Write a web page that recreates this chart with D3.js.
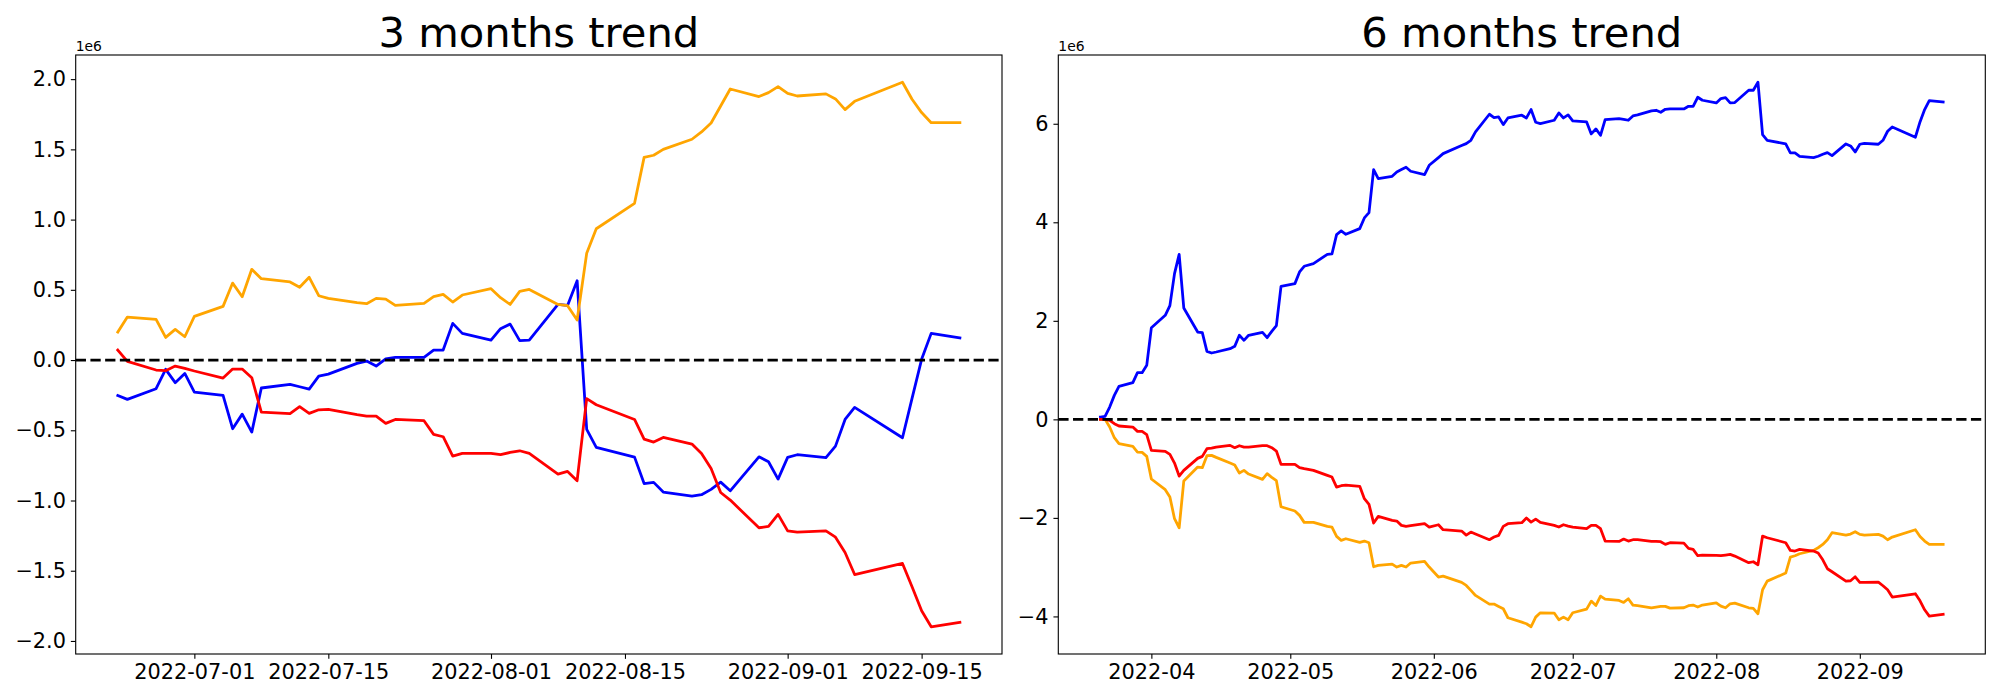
<!DOCTYPE html>
<html><head><meta charset="utf-8">
<script src="https://cdn.jsdelivr.net/npm/d3@7"></script>
<style>
body{margin:0;background:#fff}
svg{display:block}
text{font-family:"DejaVu Sans",sans-serif;fill:#000}
</style>
</head><body>
<svg id="chart" width="2000" height="700"></svg>
<script>
// ---------- 3 months panel (values in units of 1e6) ----------
const dates3m = [
"2022-06-23","2022-06-24","2022-06-27","2022-06-28","2022-06-29","2022-06-30",
"2022-07-01","2022-07-04","2022-07-05","2022-07-06","2022-07-07","2022-07-08",
"2022-07-11","2022-07-12","2022-07-13","2022-07-14","2022-07-15",
"2022-07-18","2022-07-19","2022-07-20","2022-07-21","2022-07-22",
"2022-07-25","2022-07-26","2022-07-27","2022-07-28","2022-07-29",
"2022-08-01","2022-08-02","2022-08-03","2022-08-04","2022-08-05",
"2022-08-08","2022-08-09","2022-08-10","2022-08-11","2022-08-12",
"2022-08-16","2022-08-17","2022-08-18","2022-08-19",
"2022-08-22","2022-08-23","2022-08-24","2022-08-25","2022-08-26",
"2022-08-29","2022-08-30","2022-08-31","2022-09-01","2022-09-02",
"2022-09-05","2022-09-06","2022-09-07","2022-09-08",
"2022-09-13","2022-09-14","2022-09-15","2022-09-16","2022-09-19"];

const blue3m = [
-0.252,-0.280,-0.204,-0.066,-0.161,-0.095,
-0.228,-0.252,-0.489,-0.385,-0.513,-0.199,
-0.173,-0.190,-0.207,-0.114,-0.100,
-0.024,-0.007,-0.043,0.009,0.019,
0.019,0.071,0.071,0.261,0.190,
0.142,0.223,0.256,0.138,0.142,
0.396,0.389,0.565,-0.494,-0.622,
-0.691,-0.879,-0.871,-0.940,
-0.969,-0.959,-0.921,-0.869,-0.931,
-0.689,-0.724,-0.848,-0.693,-0.674,
-0.695,-0.613,-0.423,-0.337,
-0.553,-0.273,0.005,0.190,0.157];

const red3m = [
0.071,-0.009,-0.071,-0.076,-0.043,-0.059,
-0.078,-0.128,-0.064,-0.064,-0.126,-0.370,
-0.382,-0.332,-0.380,-0.354,-0.351,
-0.389,-0.399,-0.399,-0.451,-0.423,
-0.432,-0.529,-0.546,-0.684,-0.665,
-0.665,-0.674,-0.658,-0.646,-0.665,
-0.812,-0.793,-0.859,-0.275,-0.318,
-0.423,-0.563,-0.584,-0.551,
-0.598,-0.665,-0.772,-0.943,-0.997,
-1.194,-1.185,-1.099,-1.216,-1.225,
-1.216,-1.261,-1.370,-1.527,
-1.448,-1.614,-1.785,-1.899,-1.868];

const orange3m = [
0.199,0.306,0.290,0.161,0.218,0.166,
0.311,0.382,0.548,0.451,0.646,0.579,
0.556,0.518,0.589,0.458,0.439,
0.408,0.401,0.439,0.434,0.389,
0.404,0.451,0.468,0.413,0.463,
0.508,0.444,0.396,0.489,0.503,
0.396,0.387,0.285,0.760,0.935,
1.116,1.443,1.458,1.500,
1.572,1.624,1.688,1.809,1.930,
1.876,1.904,1.947,1.899,1.880,
1.895,1.859,1.783,1.842,
1.978,1.857,1.762,1.690,1.690];

const xTicks3m = ["2022-07-01","2022-07-15","2022-08-01","2022-08-15","2022-09-01","2022-09-15"];
const yTicks3m = [-2.0,-1.5,-1.0,-0.5,0.0,0.5,1.0,1.5,2.0];

// ---------- 6 months panel (values in units of 1e6) ----------
const dates6m = [
"2022-03-21","2022-03-22","2022-03-23","2022-03-24","2022-03-25","2022-03-28","2022-03-29","2022-03-30","2022-03-31",
"2022-04-01","2022-04-04","2022-04-05","2022-04-06","2022-04-07","2022-04-08","2022-04-11","2022-04-12","2022-04-13","2022-04-14","2022-04-15",
"2022-04-18","2022-04-19","2022-04-20","2022-04-21","2022-04-22","2022-04-25","2022-04-26","2022-04-27","2022-04-28","2022-04-29",
"2022-05-02","2022-05-03","2022-05-04","2022-05-06","2022-05-09","2022-05-10","2022-05-11","2022-05-12","2022-05-13","2022-05-16",
"2022-05-17","2022-05-18","2022-05-19","2022-05-20","2022-05-23","2022-05-24","2022-05-25","2022-05-26","2022-05-27","2022-05-30","2022-05-31",
"2022-06-02","2022-06-03","2022-06-07","2022-06-08","2022-06-09","2022-06-10","2022-06-13","2022-06-14","2022-06-15","2022-06-16",
"2022-06-17","2022-06-20","2022-06-21","2022-06-22","2022-06-23","2022-06-24","2022-06-27","2022-06-28","2022-06-29","2022-06-30",
"2022-07-01","2022-07-04","2022-07-05","2022-07-06","2022-07-07","2022-07-08","2022-07-11","2022-07-12","2022-07-13","2022-07-14","2022-07-15",
"2022-07-18","2022-07-19","2022-07-20","2022-07-21","2022-07-22","2022-07-25","2022-07-26","2022-07-27","2022-07-28","2022-07-29",
"2022-08-01","2022-08-02","2022-08-03","2022-08-04","2022-08-05","2022-08-08","2022-08-09","2022-08-10","2022-08-11","2022-08-12","2022-08-16",
"2022-08-17","2022-08-18","2022-08-19","2022-08-22","2022-08-23","2022-08-24","2022-08-25","2022-08-26","2022-08-29","2022-08-30","2022-08-31",
"2022-09-01","2022-09-02","2022-09-05","2022-09-06","2022-09-07","2022-09-08","2022-09-13","2022-09-14","2022-09-15","2022-09-16","2022-09-19"];

const blue6m = [
0.047,0.061,0.250,0.487,0.670,0.745,0.948,0.948,1.096,
1.861,2.112,2.308,2.958,3.350,2.261,1.773,1.760,1.381,1.347,1.367,
1.435,1.482,1.706,1.604,1.706,1.767,1.658,1.787,1.902,2.700,
2.755,2.992,3.107,3.161,3.350,3.357,3.750,3.824,3.756,3.871,
4.088,4.196,5.069,4.887,4.934,5.022,5.070,5.117,5.036,4.968,5.157,
5.313,5.394,5.557,5.597,5.665,5.834,6.193,6.125,6.139,5.983,
6.118,6.173,6.118,6.288,6.030,6.003,6.071,6.220,6.118,6.179,
6.057,6.037,5.794,5.895,5.766,6.085,6.105,6.091,6.071,6.159,6.179,
6.261,6.274,6.234,6.294,6.301,6.301,6.355,6.355,6.538,6.477,
6.423,6.511,6.531,6.423,6.430,6.680,6.680,6.843,5.780,5.665,5.591,
5.408,5.408,5.340,5.313,5.340,5.381,5.415,5.354,5.591,5.550,5.428,
5.584,5.604,5.584,5.665,5.848,5.936,5.726,6.037,6.288,6.470,6.443];

const red6m = [
0.000,0.000,-0.020,-0.088,-0.135,-0.156,-0.244,-0.244,-0.311,
-0.629,-0.650,-0.711,-0.887,-1.151,-1.036,-0.792,-0.751,-0.596,-0.582,-0.562,
-0.528,-0.575,-0.535,-0.562,-0.562,-0.535,-0.535,-0.575,-0.643,-0.914,
-0.914,-0.981,-1.002,-1.036,-1.137,-1.171,-1.374,-1.347,-1.333,-1.360,
-1.611,-1.726,-2.105,-1.970,-2.051,-2.064,-2.152,-2.173,-2.159,-2.118,-2.186,
-2.139,-2.240,-2.267,-2.349,-2.288,-2.328,-2.443,-2.389,-2.355,-2.173,
-2.118,-2.098,-2.003,-2.085,-2.024,-2.091,-2.152,-2.186,-2.139,-2.166,
-2.186,-2.220,-2.152,-2.152,-2.220,-2.470,-2.477,-2.430,-2.470,-2.443,-2.443,
-2.477,-2.477,-2.484,-2.538,-2.504,-2.511,-2.619,-2.640,-2.768,-2.755,
-2.761,-2.768,-2.755,-2.741,-2.775,-2.910,-2.890,-2.951,-2.369,-2.403,-2.504,
-2.660,-2.673,-2.640,-2.673,-2.714,-2.850,-3.032,-3.093,-3.283,-3.276,-3.195,
-3.310,-3.310,-3.303,-3.377,-3.459,-3.607,-3.540,-3.682,-3.865,-3.993,-3.959];

const orange6m = [
0.000,0.000,-0.156,-0.372,-0.494,-0.548,-0.663,-0.670,-0.751,
-1.211,-1.428,-1.577,-2.017,-2.200,-1.252,-0.968,-0.981,-0.738,-0.731,-0.772,
-0.887,-0.927,-1.090,-1.036,-1.110,-1.218,-1.103,-1.178,-1.245,-1.773,
-1.861,-1.949,-2.091,-2.091,-2.173,-2.186,-2.376,-2.457,-2.423,-2.497,
-2.470,-2.504,-2.992,-2.964,-2.937,-2.998,-2.964,-2.998,-2.917,-2.883,-2.998,
-3.201,-3.181,-3.310,-3.371,-3.472,-3.574,-3.750,-3.750,-3.797,-3.844,
-4.027,-4.115,-4.149,-4.210,-4.014,-3.926,-3.932,-4.068,-4.014,-4.068,
-3.926,-3.851,-3.689,-3.777,-3.587,-3.648,-3.675,-3.716,-3.641,-3.770,-3.783,
-3.824,-3.810,-3.797,-3.797,-3.831,-3.824,-3.783,-3.770,-3.810,-3.770,
-3.723,-3.790,-3.824,-3.743,-3.729,-3.824,-3.838,-3.946,-3.459,-3.283,-3.120,
-2.795,-2.768,-2.728,-2.660,-2.606,-2.538,-2.443,-2.301,-2.349,-2.328,-2.281,
-2.335,-2.349,-2.335,-2.369,-2.443,-2.389,-2.240,-2.376,-2.470,-2.538,-2.538];

const xTicks6m = ["2022-04-01","2022-05-01","2022-06-01","2022-07-01","2022-08-01","2022-09-01"];
const yTicks6m = [-4,-2,0,2,4,6];

const titles = ["3 months trend","6 months trend"];
const offsetLabel = "1e6";

// ---------- drawing ----------
const svg = d3.select("#chart");
const parse = d3.utcParse("%Y-%m-%d");
const LW = 2.78, FS = 20.83, TICK = 4.86;

function panel(o) {
  const xs = o.dates.map(parse);
  const [d0, d1] = d3.extent(xs);
  const span = d1 - d0;
  const x = d3.scaleUtc()
    .domain([new Date(+d0 - 0.05 * span), new Date(+d1 + 0.05 * span)])
    .range([o.left, o.right]);
  const all = o.series.flatMap(s => s.values);
  const [v0, v1] = d3.extent(all);
  const vr = v1 - v0;
  const y = d3.scaleLinear().domain([v0 - 0.05 * vr, v1 + 0.05 * vr]).range([o.bottom, o.top]);

  const g = svg.append("g");
  const line = d3.line().x((d, i) => x(xs[i])).y(d => y(d));
  o.series.forEach(s => {
    g.append("path").datum(s.values)
      .attr("d", line)
      .attr("fill", "none")
      .attr("stroke", s.color)
      .attr("stroke-width", LW)
      .attr("stroke-linejoin", "round")
      .attr("stroke-linecap", "square");
  });
  // zero dashed line
  g.append("line")
    .attr("x1", o.left).attr("x2", o.right)
    .attr("y1", y(0)).attr("y2", y(0))
    .attr("stroke", "#000").attr("stroke-width", LW)
    .attr("stroke-dasharray", "10.28,4.44");

  // axes
  const ax = g.append("g").attr("transform", `translate(0,${o.bottom})`)
    .call(d3.axisBottom(x).tickValues(o.xTicks.map(parse)).tickFormat(d3.utcFormat(o.xFmt))
      .tickSize(TICK).tickPadding(TICK));
  const ay = g.append("g").attr("transform", `translate(${o.left},0)`)
    .call(d3.axisLeft(y).tickValues(o.yTicks).tickFormat(d3.format(o.yFmt))
      .tickSize(TICK).tickPadding(TICK));
  [ax, ay].forEach(a => {
    a.select(".domain").remove();
    a.selectAll("line").attr("stroke", "#000").attr("stroke-width", 1.11);
    a.selectAll("text").attr("font-size", FS).attr("font-family", "DejaVu Sans").attr("fill", "#000");
  });

  // frame
  g.append("rect")
    .attr("x", o.left).attr("y", o.top)
    .attr("width", o.right - o.left).attr("height", o.bottom - o.top)
    .attr("fill", "none").attr("stroke", "#000").attr("stroke-width", 1.11);

  // title
  g.append("text")
    .attr("x", (o.left + o.right) / 2).attr("y", o.top - 8.33)
    .attr("text-anchor", "middle").attr("font-size", 41.67)
    .text(o.title);
  // offset label
  g.append("text")
    .attr("x", o.left).attr("y", o.top - 4)
    .attr("font-size", 13.9)
    .text(offsetLabel);
}

panel({
  left: 75.7, right: 1002, top: 55, bottom: 654,
  dates: dates3m,
  series: [
    {values: blue3m, color: "#0000ff"},
    {values: orange3m, color: "#ffa500"},
    {values: red3m, color: "#ff0000"}
  ],
  xTicks: xTicks3m, xFmt: "%Y-%m-%d",
  yTicks: yTicks3m, yFmt: ".1f",
  title: titles[0]
});

panel({
  left: 1058.3, right: 1985.3, top: 55, bottom: 654,
  dates: dates6m,
  series: [
    {values: blue6m, color: "#0000ff"},
    {values: orange6m, color: "#ffa500"},
    {values: red6m, color: "#ff0000"}
  ],
  xTicks: xTicks6m, xFmt: "%Y-%m",
  yTicks: yTicks6m, yFmt: "d",
  title: titles[1]
});
</script>
</body></html>
